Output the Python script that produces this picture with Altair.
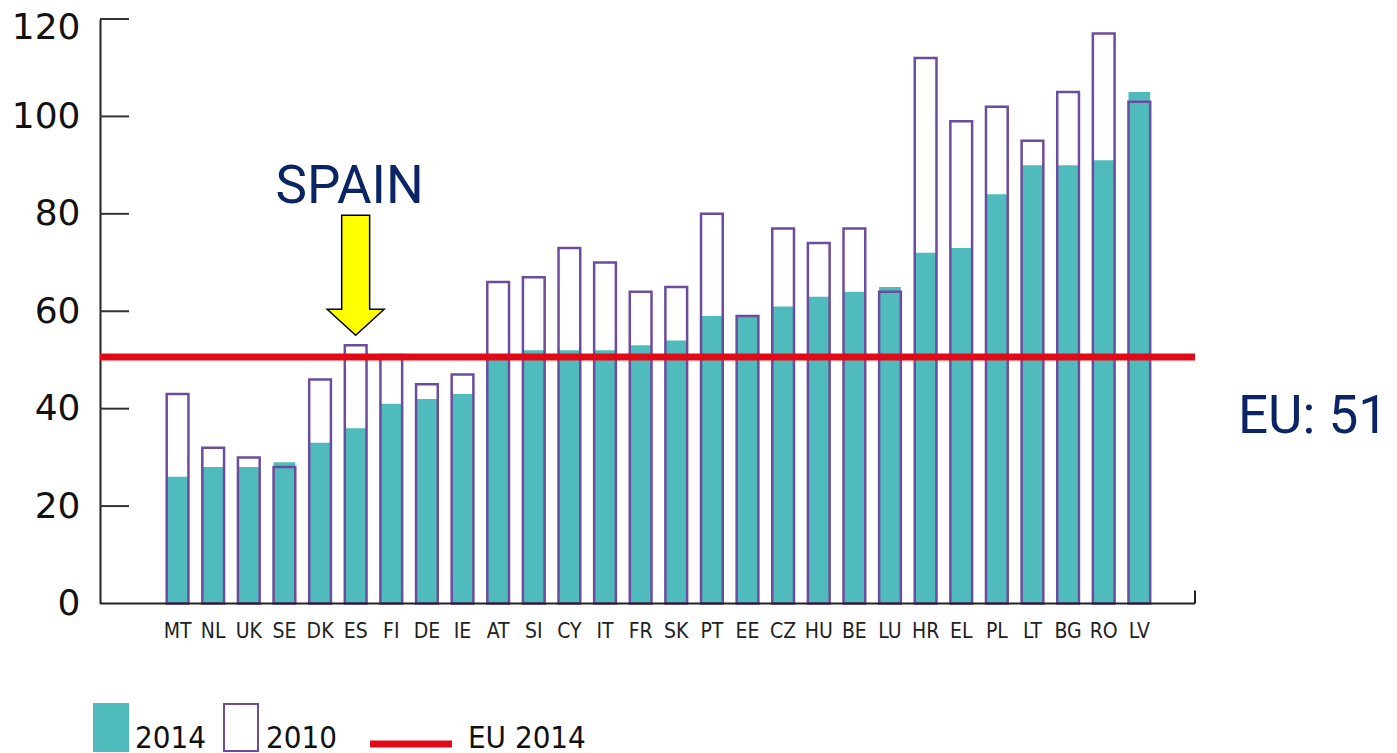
import altair as alt
import pandas as pd

countries = ["MT", "NL", "UK", "SE", "DK", "ES", "FI", "DE", "IE", "AT", "SI", "CY", "IT", "FR",
             "SK", "PT", "EE", "CZ", "HU", "BE", "LU", "HR", "EL", "PL", "LT", "BG", "RO", "LV"]
v2014 = [26, 28, 28, 29, 33, 36, 41, 42, 43, 50, 52, 52, 52, 53,
         54, 59, 59, 61, 63, 64, 65, 72, 73, 84, 90, 90, 91, 105]
v2010 = [43, 32, 30, 28, 46, 53, 51, 45, 47, 66, 67, 73, 70, 64,
         65, 80, 59, 77, 74, 77, 64, 112, 99, 102, 95, 105, 117, 103]
eu_2014 = 50.6
eu_label = "EU: 51"
y_ticks = [0, 20, 40, 60, 80, 100, 120]
highlight = "ES"
highlight_label = "SPAIN"
legend_labels = ["2014", "2010", "EU 2014"]

TEAL = "#50BBBD"
PURPLE = "#6C4C9C"
RED = "#E30A18"
NAVY = "#0B2463"

W, H = 1095, 584.5

df = pd.DataFrame({"country": countries, "y2014": v2014, "y2010": v2010})

xscale = alt.Scale(domain=countries, paddingInner=0.39, paddingOuter=0, range=[66.7, 1050.2])
yscale = alt.Scale(domain=[0, 120], nice=False)

xaxis = alt.Axis(labelAngle=0, ticks=False, tickSize=0, labelPadding=17,
                 labelFont="DejaVu Sans Condensed", labelFontSize=21, labelColor="#222",
                 domain=False, title=None, grid=False)
yaxis = alt.Axis(values=y_ticks, ticks=False, tickSize=0, labelPadding=20,
                 labelFont="DejaVu Sans", labelFontSize=36, labelColor="#111",
                 labelOffset={"condition": {"test": "datum.value == 120", "value": 8}, "value": 0},
                 domainColor="#222", domainWidth=2, title=None, grid=False)

base = alt.Chart(df)

bars14 = base.mark_bar(color=TEAL).encode(
    x=alt.X("country:N", scale=xscale, axis=xaxis, sort=countries),
    y=alt.Y("y2014:Q", scale=yscale, axis=yaxis),
)
bars10 = base.mark_bar(fill="white", fillOpacity=0, stroke=PURPLE, strokeWidth=2.5).encode(
    x=alt.X("country:N", scale=xscale, sort=countries),
    y=alt.Y("y2010:Q", scale=yscale),
)

one = pd.DataFrame({"a": [0]})

x_domain_line = alt.Chart(one).mark_rule(color="#222", strokeWidth=2).encode(
    x=alt.value(0), x2=alt.value(W), y=alt.value(H)
)
eu_line = alt.Chart(one).mark_rule(color=RED, strokeWidth=7).encode(
    y=alt.datum(eu_2014, scale=yscale), x=alt.value(0), x2=alt.value(W)
)

tick_df = pd.DataFrame({"v": y_ticks[1:]})
inner_ticks = alt.Chart(tick_df).mark_rule(color="#333", strokeWidth=2).encode(
    y=alt.Y("v:Q", scale=yscale), x=alt.value(0), x2=alt.value(29)
)
end_tick = alt.Chart(one).mark_rule(color="#222", strokeWidth=2).encode(
    x=alt.value(W), y=alt.value(H), y2=alt.value(H - 13)
)

ann = pd.DataFrame({"c": [highlight], "ty": [82.2], "ay": [67.4], "t": [highlight_label]})
arrow_path = ("M -0.233 -1 L 0.233 -1 L 0.233 0.567 L 0.475 0.567 L 0 1 "
              "L -0.475 0.567 L -0.233 0.567 Z")
arrow = alt.Chart(ann).mark_point(shape=arrow_path, size=14400, filled=True, fill="#FFFF00",
                                  stroke="#000", strokeWidth=1.5, opacity=1).encode(
    x=alt.X("c:N", scale=xscale), y=alt.Y("ay:Q", scale=yscale)
)
spain = alt.Chart(ann).mark_text(font="Roboto", fontSize=53, color=NAVY,
                                 baseline="alphabetic", align="center", dx=-6).encode(
    x=alt.X("c:N", scale=xscale), y=alt.Y("ty:Q", scale=yscale), text="t:N"
)
eu_text = alt.Chart(one).mark_text(font="Roboto", fontSize=53, color=NAVY,
                                   baseline="alphabetic", align="left").encode(
    x=alt.value(1138), y=alt.value(414), text=alt.value(eu_label)
)

# legend (drawn below the plot)
leg_teal = alt.Chart(one).mark_rect(color=TEAL).encode(
    x=alt.value(-7), x2=alt.value(29), y=alt.value(684), y2=alt.value(733)
)
leg_purple = alt.Chart(one).mark_rect(fill="white", stroke=PURPLE, strokeWidth=2).encode(
    x=alt.value(124), x2=alt.value(158), y=alt.value(685), y2=alt.value(732)
)
leg_red = alt.Chart(one).mark_rule(color=RED, strokeWidth=7).encode(
    x=alt.value(270), x2=alt.value(352), y=alt.value(725)
)
leg_text_df = pd.DataFrame({"t": legend_labels, "px": [35, 166, 368]})
leg_text = alt.Chart(leg_text_df).mark_text(font="DejaVu Sans Condensed", fontSize=31,
                                            color="#111", baseline="alphabetic",
                                            align="left").encode(
    x=alt.X("px:Q", scale=None), y=alt.value(729), text="t:N"
)

chart = alt.layer(
    bars14, bars10, x_domain_line, eu_line, inner_ticks, end_tick, arrow, spain, eu_text,
    leg_teal, leg_purple, leg_red, leg_text
).properties(
    width=W, height=H,
    autosize=alt.AutoSizeParams(type="none"),
    padding={"left": 92, "top": 11, "right": 194, "bottom": 150},
).configure(background="white", view=alt.ViewConfig(stroke=None))

chart.save("out.html", embed_options={"renderer": "svg", "actions": False})
